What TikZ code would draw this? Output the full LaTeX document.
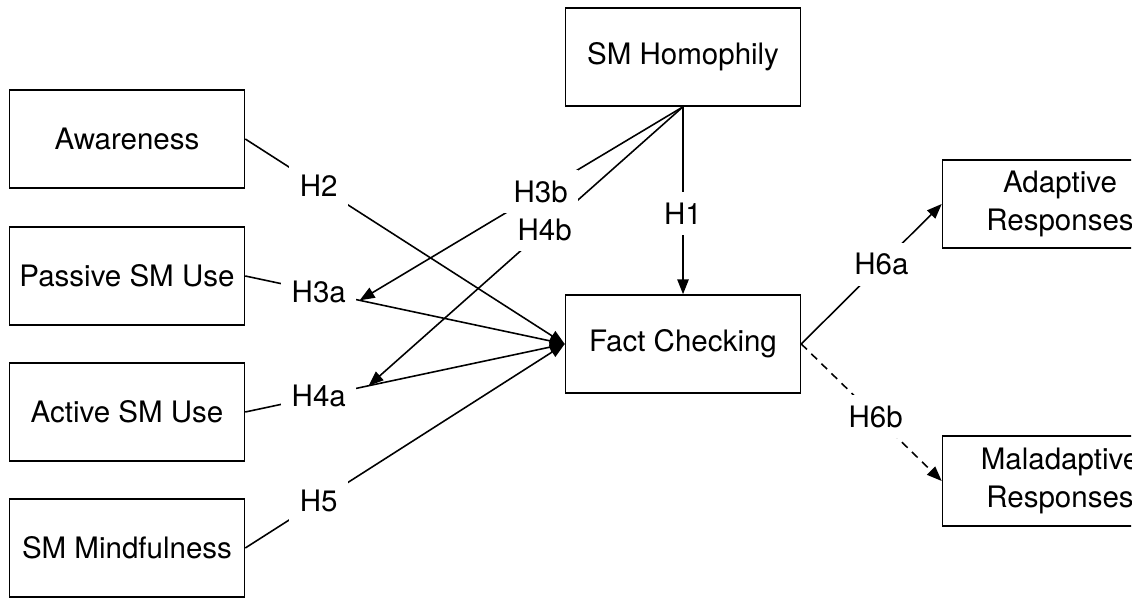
\documentclass[tikz,border=0pt]{standalone}
\usepackage{fontspec}
\setmainfont{TeX Gyre Heros}
\usetikzlibrary{positioning,arrows.meta}

\begin{document}
\begin{tikzpicture}[node distance=2.72cm,>={Triangle[length=8.5pt,width=6.5pt]},line width=0.9pt,
  box/.style={draw,minimum width=4.7cm,minimum height=1.96cm,align=center,font=\fontsize{16.8}{22}\selectfont},
  hyp/.style={fill=white,inner sep=6pt,font=\fontsize{16.8}{22}\selectfont}]
  \useasboundingbox (0,0) rectangle (22.84,11.98);
  \clip (0,0) rectangle (22.62,11.98);

  \node[box] (aware) at (2.54,9.2) {Awareness};
  \node[box, below of=aware, node distance=2.74cm] (passive) {Passive SM Use};
  \node[box, below of=passive] (active) {Active SM Use};
  \node[box, below of=active] (mindful) {SM Mindfulness};

  \node[box] (homophily) at (13.66,10.84) {SM Homophily};
  \node[box, below of=homophily, node distance=5.74cm] (fact) {Fact Checking};

  \node[box, minimum height=1.76cm] (adaptive) at (21.2,7.9) {Adaptive\\Responses};
  \node[box, minimum height=1.8cm] (maladaptive) at (21.2,2.36) {Maladaptive\\Responses};

  %%%%

  \draw[->] (aware.east) -- node[hyp,pos=0.23]{H2} (fact.west);
  \draw[->] (passive.east) -- node[hyp,pos=0.23]{H3a} coordinate[pos=0.358] (m3a) (fact.west);
  \draw[->] (active.east) -- node[hyp,pos=0.23]{H4a} coordinate[pos=0.386] (m4a) (fact.west);
  \draw[->] (mindful.east) -- node[hyp,pos=0.23]{H5} (fact.west);

  %%%%

  \draw[->] (homophily.south) -- node[hyp,pos=0.57]{H1} (fact.north);
  \draw[->] (homophily.south) -- node[hyp,pos=0.44]{H4b} (m4a);
  \draw[->] (homophily.south) -- node[hyp,pos=0.44]{H3b} (m3a);

  %%%%

  \draw[->] (fact.east) -- node[hyp,pos=0.57]{H6a} (adaptive.west);
  \draw[->,dash pattern=on 4.5pt off 3.5pt] (fact.east) -- node[hyp,pos=0.53]{H6b} (maladaptive.west);

\end{tikzpicture}
\end{document}
